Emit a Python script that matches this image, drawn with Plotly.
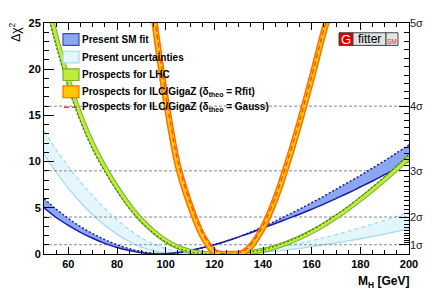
import plotly.graph_objects as go

# ---------------- data ----------------
mass = [50, 55, 60, 65, 70, 75, 80, 85, 90, 95, 100, 105, 110, 115, 120, 125,
        130, 135, 140, 145, 150, 155, 160, 165, 170, 175, 180, 185, 190, 195, 200]

# Present SM fit (blue band): solid lower edge and dotted upper edge
sm_fit_solid = [5.0, 3.95, 3.1, 2.35, 1.7, 1.15, 0.7, 0.38, 0.14, 0.02, 0.02, 0.15, 0.4, 0.68, 1.0, 1.4,
                1.85, 2.3, 2.8, 3.3, 3.8, 4.3, 4.85, 5.4, 6.0, 6.6, 7.25, 7.9, 8.6, 9.3, 10.05]
sm_fit_dotted = [6.0, 4.85, 3.85, 2.95, 2.2, 1.55, 1.0, 0.58, 0.27, 0.08, 0.03, 0.12, 0.35, 0.65, 1.0, 1.4,
                 1.85, 2.38, 2.95, 3.55, 4.2, 4.85, 5.55, 6.25, 7.0, 7.75, 8.5, 9.3, 10.1, 10.95, 11.8]

# Present uncertainties (light-blue band)
unc_solid = [10.8, 8.85, 7.1, 5.6, 4.25, 3.1, 2.15, 1.35, 0.75, 0.35, 0.12, 0.03, 0.0, 0.0, 0.0, 0.02,
             0.06, 0.12, 0.2, 0.32, 0.45, 0.62, 0.8, 1.0, 1.2, 1.42, 1.65, 1.9, 2.15, 2.45, 2.75]
unc_dashed = [13.3, 11.3, 9.45, 7.8, 6.3, 4.95, 3.7, 2.65, 1.75, 1.1, 0.6, 0.25, 0.07, 0.0, 0.0, 0.05,
              0.15, 0.28, 0.45, 0.66, 0.9, 1.16, 1.45, 1.76, 2.1, 2.46, 2.85, 3.24, 3.65, 4.07, 4.5]

# Prospects for LHC (green band) and its dotted companion
lhc_band = [28.5, 23.5, 18.8, 15.0, 11.9, 9.4, 7.2, 5.3, 3.7, 2.45, 1.45, 0.75, 0.3, 0.08, 0.0, 0.0,
            0.05, 0.18, 0.4, 0.75, 1.2, 1.75, 2.4, 3.15, 4.0, 4.9, 5.9, 6.95, 8.05, 9.2, 10.4]
lhc_dotted = [27.3, 22.5, 18.0, 14.3, 11.3, 8.9, 6.8, 4.95, 3.45, 2.25, 1.3, 0.65, 0.25, 0.06, 0.0, 0.0,
              0.07, 0.22, 0.47, 0.85, 1.33, 1.9, 2.58, 3.35, 4.22, 5.15, 6.17, 7.25, 8.38, 9.56, 10.8]

# Prospects for ILC/GigaZ
ilc_mass = [90, 95, 100, 105, 110, 115, 120, 122.5, 126, 129.5, 132, 135, 140, 145, 150, 155, 160, 165, 170]
ilc_rfit = [37.0, 26.0, 16.8, 9.6, 5.3, 2.05, 0.23, 0.0, 0.0, 0.0, 0.17, 0.84, 2.87, 5.9, 9.8, 14.2, 19.0, 24.1, 28.4]
ilc_gauss = [37.5, 26.5, 17.3, 10.0, 5.6, 2.3, 0.45, 0.1, 0.0, 0.08, 0.3, 1.0, 3.05, 6.1, 10.0, 14.4, 19.2, 24.3, 28.6]

x_ticks = [60, 80, 100, 120, 140, 160, 180, 200]
y_ticks = [0, 5, 10, 15, 20, 25]
sigma_levels = [1, 2, 3, 4, 5]
sigma_labels = ["1σ", "2σ", "3σ", "4σ", "5σ"]

legend_labels = [
    "Present SM fit",
    "Present uncertainties",
    "Prospects for LHC",
    "Prospects for ILC/GigaZ (δ<sub>theo</sub> = Rfit)",
    "Prospects for ILC/GigaZ (δ<sub>theo</sub> = Gauss)",
]

# ---------------- layout geometry ----------------
# The page body has an 8px margin, so the figure is sized/offset to place the
# plot frame at page pixels x 44..409, y 17..254 of the 432x293 window.
PAGE_OFF = 8
P_LEFT, P_RIGHT, P_TOP, P_BOTTOM = 44, 409, 17, 254
W, H = 432 - PAGE_OFF, 293 - PAGE_OFF
L = P_LEFT - PAGE_OFF
T = P_TOP - PAGE_OFF
R = W - (P_RIGHT - PAGE_OFF)
B = H - (P_BOTTOM - PAGE_OFF)
PW, PH = P_RIGHT - P_LEFT, P_BOTTOM - P_TOP


def fx(p):
    return (p - P_LEFT) / PW


def fy(p):
    return (P_BOTTOM - p) / PH


FONT = "Liberation Sans, Arial, Helvetica, sans-serif"

DARKBLUE = "#1a1aa8"
BLUEFILL = "#8aa7ef"
LBLUE = "#a6daf4"
LBLUEFILL = "#e3f6fc"
GREEN_EDGE = "#72b42a"
GREEN_FILL = "#c2ea3c"
GREEN_DOT = "#3f7a12"
OR_EDGE = "#ff6e00"
OR_FILL = "#ffc800"
OR_DASH = "#ff3b14"

fig = go.Figure()

# present uncertainties band
fig.add_trace(go.Scatter(x=mass, y=unc_solid, mode="lines",
                         line=dict(color=LBLUE, width=1.3, shape="spline"), hoverinfo="skip"))
fig.add_trace(go.Scatter(x=mass, y=unc_dashed, mode="lines", fill="tonexty", fillcolor=LBLUEFILL,
                         line=dict(color=LBLUE, width=1.3, dash="4px,3px", shape="spline"), hoverinfo="skip"))

# sigma reference lines
for s in sigma_levels[:-1]:
    fig.add_trace(go.Scatter(x=[mass[0], mass[-1]], y=[s * s, s * s], mode="lines",
                             line=dict(color="#8a8a8a", width=1, dash="3px,2px"), hoverinfo="skip"))

# present SM fit band
fig.add_trace(go.Scatter(x=mass, y=sm_fit_solid, mode="lines",
                         line=dict(color=DARKBLUE, width=1.5, shape="spline"), hoverinfo="skip"))
fig.add_trace(go.Scatter(x=mass, y=sm_fit_dotted, mode="lines", fill="tonexty", fillcolor=BLUEFILL,
                         line=dict(color=DARKBLUE, width=1.5, dash="2px,2px", shape="spline"), hoverinfo="skip"))

# LHC band
fig.add_trace(go.Scatter(x=mass, y=lhc_band, mode="lines",
                         line=dict(color=GREEN_EDGE, width=5, shape="spline"), hoverinfo="skip"))
fig.add_trace(go.Scatter(x=mass, y=lhc_band, mode="lines",
                         line=dict(color=GREEN_FILL, width=3, shape="spline"), hoverinfo="skip"))
fig.add_trace(go.Scatter(x=mass, y=lhc_dotted, mode="lines",
                         line=dict(color=GREEN_DOT, width=1.2, dash="2px,2px", shape="spline"), hoverinfo="skip"))

# ILC band
fig.add_trace(go.Scatter(x=ilc_mass, y=ilc_rfit, mode="lines",
                         line=dict(color=OR_EDGE, width=6.5, shape="spline", smoothing=0.8), hoverinfo="skip"))
fig.add_trace(go.Scatter(x=ilc_mass, y=ilc_rfit, mode="lines",
                         line=dict(color=OR_FILL, width=3.5, shape="spline", smoothing=0.8), hoverinfo="skip"))
fig.add_trace(go.Scatter(x=ilc_mass, y=ilc_gauss, mode="lines",
                         line=dict(color=OR_DASH, width=1.2, dash="5px,3px", shape="spline", smoothing=0.8),
                         hoverinfo="skip"))

# invisible trace to activate top / right axes
fig.add_trace(go.Scatter(x=[mass[0]], y=[y_ticks[0]], xaxis="x2", yaxis="y2", mode="markers",
                         marker=dict(opacity=0), hoverinfo="skip"))

minor_sigma = [(k / 10) ** 2 for k in range(10, 51) if k % 10 != 0]

tickfont = dict(family=FONT, size=11, color="black", weight="bold")
fig.update_layout(
    width=W, height=H,
    margin=dict(l=L, r=R, t=T, b=B, pad=0),
    paper_bgcolor="white", plot_bgcolor="white",
    showlegend=False,
    xaxis=dict(range=[mass[0], mass[-1]], tickvals=x_ticks, ticks="inside", ticklen=7, tickwidth=1,
               tickcolor="black", showline=True, linecolor="black", linewidth=1, mirror=True,
               showgrid=False, zeroline=False, tickfont=tickfont,
               minor=dict(dtick=5, tick0=0, ticks="inside", ticklen=4, tickcolor="black", showgrid=False)),
    yaxis=dict(range=[y_ticks[0], y_ticks[-1]], tickvals=y_ticks, ticks="inside", ticklen=10, tickwidth=1,
               tickcolor="black", showline=True, linecolor="black", linewidth=1, mirror=True,
               showgrid=False, zeroline=False, tickfont=tickfont,
               minor=dict(dtick=1, tick0=0, ticks="inside", ticklen=5, tickcolor="black", showgrid=False)),
    xaxis2=dict(range=[mass[0], mass[-1]], overlaying="x", side="top", tickvals=x_ticks, ticks="inside",
                ticklen=7, tickcolor="black", showticklabels=False, showgrid=False, zeroline=False,
                minor=dict(dtick=5, tick0=0, ticks="inside", ticklen=4, tickcolor="black", showgrid=False)),
    yaxis2=dict(range=[y_ticks[0], y_ticks[-1]], overlaying="y", side="right",
                tickvals=[s * s for s in sigma_levels], ticktext=sigma_labels, ticks="inside", ticklen=10,
                tickcolor="black", showgrid=False, zeroline=False,
                tickfont=dict(family=FONT, size=11, color="#222"),
                minor=dict(tickvals=minor_sigma, ticks="inside", ticklen=5, tickcolor="black", showgrid=False)),
)

shapes = []
annotations = []

# legend
rows = [34, 52, 70, 87.5, 103.5]
box_styles = [(BLUEFILL, "#3b48c8"), (LBLUEFILL, "#a6daf4"), (GREEN_FILL, GREEN_EDGE), (OR_FILL, OR_EDGE)]
for i, (fc, lc) in enumerate(box_styles):
    shapes.append(dict(type="rect", xref="paper", yref="paper", x0=fx(63), x1=fx(79),
                       y0=fy(rows[i] + 6), y1=fy(rows[i] - 6), fillcolor=fc,
                       line=dict(color=lc, width=1.2), layer="above"))
shapes.append(dict(type="line", xref="paper", yref="paper", x0=fx(64), x1=fx(79),
                   y0=fy(rows[4]), y1=fy(rows[4]), line=dict(color=OR_DASH, width=1.5, dash="5px,3px"),
                   layer="above"))
for r, lab in zip(rows, legend_labels):
    annotations.append(dict(xref="paper", yref="paper", x=fx(80), y=fy(r), text="<b>" + lab + "</b>",
                            showarrow=False, xanchor="left", yanchor="middle",
                            font=dict(family=FONT, size=10, color="black")))

# Gfitter logo
shapes.append(dict(type="rect", xref="paper", yref="paper", x0=fx(339), x1=fx(353), y0=fy(40), y1=fy(27),
                   fillcolor="#e00000", line=dict(color="#444", width=1), layer="above"))
shapes.append(dict(type="rect", xref="paper", yref="paper", x0=fx(353), x1=fx(386), y0=fy(40), y1=fy(27),
                   fillcolor="#dde4e4", line=dict(color="#444", width=1), layer="above"))
shapes.append(dict(type="rect", xref="paper", yref="paper", x0=fx(386), x1=fx(398), y0=fy(40), y1=fy(27),
                   fillcolor="#e6e6e6", line=dict(color="#444", width=1), layer="above"))
annotations.append(dict(xref="paper", yref="paper", x=fx(346), y=fy(33.5), text="G", showarrow=False,
                        xanchor="center", yanchor="middle", font=dict(family=FONT, size=13, color="white")))
annotations.append(dict(xref="paper", yref="paper", x=fx(369.5), y=fy(33.5), text="fitter", showarrow=False,
                        xanchor="center", yanchor="middle", font=dict(family=FONT, size=12, color="black")))
annotations.append(dict(xref="paper", yref="paper", x=fx(392), y=fy(36), text="SM", showarrow=False,
                        xanchor="center", yanchor="middle", font=dict(family=FONT, size=6.5, color="#e02020")))

# axis titles
annotations.append(dict(xref="paper", yref="paper", x=fx(15), y=fy(26), text="Δχ<sup>2</sup>",
                        showarrow=False, textangle=-90, xanchor="center", yanchor="middle",
                        font=dict(family=FONT, size=12, color="black")))
annotations.append(dict(xref="paper", yref="paper", x=fx(411), y=fy(283), text="<b>M<sub>H</sub> [GeV]</b>",
                        showarrow=False, xanchor="right", yanchor="middle",
                        font=dict(family=FONT, size=12, color="black")))

fig.update_layout(shapes=shapes, annotations=annotations)
fig.write_html("out.html")
